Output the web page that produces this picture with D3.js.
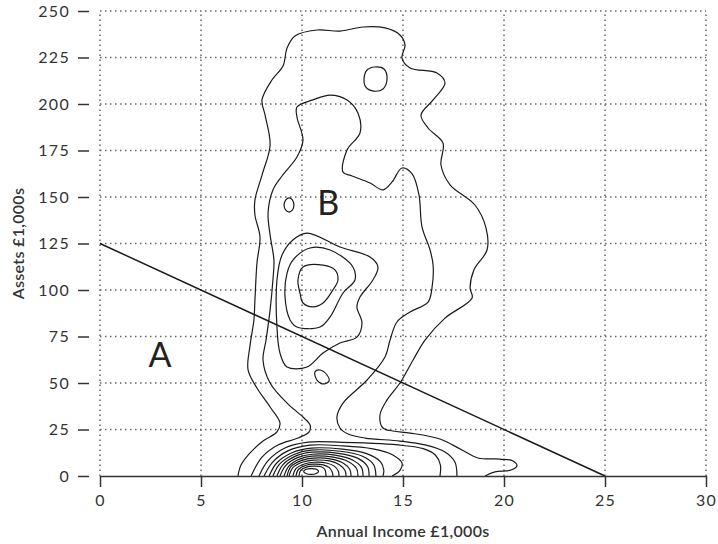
<!DOCTYPE html>
<html>
<head>
<meta charset="utf-8">
<script src="https://cdn.jsdelivr.net/npm/d3@7"></script>
<style>
  body { margin: 0; background: #fff; }
  svg { display: block; }
  text { font-family: Lato, "Open Sans", sans-serif; fill: #333; }
</style>
</head>
<body>
<div class="chart"></div>
<script>
// axes
const xTicks = [0, 5, 10, 15, 20, 25, 30];
const yTicks = [0, 25, 50, 75, 100, 125, 150, 175, 200, 225, 250];

// contour lines, [income, assets] in £1,000s
const outerContour = [[6.83,0],[6.98,5.9],[7.43,12.4],[8.07,18.8],[8.76,23.7],[8.91,28.5],[8.42,37.1],[7.77,47.3],[7.33,57.0],[7.43,70.4],[7.62,83.9],[7.67,94.6],[7.77,114.5],[7.92,128.5],[7.67,140.3],[7.67,148.4],[8.02,161.8],[8.42,178.0],[8.17,194.1],[8.02,202.2],[8.51,212.9],[9.06,220.4],[9.26,230.1],[9.65,236.6],[10.74,239.8],[11.88,239.2],[13.02,241.4],[14.11,240.9],[14.85,237.1],[15.10,231.7],[14.95,224.7],[15.35,219.4],[16.68,216.7],[17.08,211.3],[16.49,202.2],[15.89,194.1],[16.24,187.1],[16.98,179.0],[16.88,167.2],[17.33,156.5],[18.56,145.7],[19.11,133.3],[19.16,121.5],[18.51,110.8],[18.32,101.1],[18.42,95.7],[17.08,84.9],[16.09,73.1],[15.50,62.4],[14.85,50.0],[14.21,40.9],[13.86,32.8],[14.01,25.8],[14.50,24.2],[15.35,23.1],[16.83,19.9],[17.92,14.0],[18.71,9.7],[19.80,9.1],[20.45,8.1],[20.64,5.4],[20.35,3.2],[19.55,2.2],[19.06,0]];

const secondContour = [[7.48,0],[8.02,10.2],[8.81,16.7],[9.80,20.4],[10.35,23.7],[10.40,27.4],[10.05,31.7],[9.26,39.2],[8.42,50.0],[8.07,62.4],[8.22,73.1],[8.42,89.2],[8.56,105.4],[8.61,116.1],[8.42,129.6],[8.32,141.4],[8.56,153.8],[9.01,161.3],[9.75,171.5],[10.05,180.6],[9.75,193.0],[9.75,198.4],[10.54,202.2],[11.39,204.8],[12.23,202.2],[12.77,195.2],[12.87,184.4],[12.23,175.3],[12.03,163.4],[12.48,161.3],[13.37,157.5],[14.01,153.8],[14.46,158.1],[14.95,165.6],[15.45,162.4],[15.79,151.1],[15.94,133.9],[16.34,121.5],[16.49,113.4],[16.44,101.6],[16.24,93.5],[15.35,88.2],[14.70,82.8],[14.36,73.1],[14.11,64.0],[13.22,51.6],[12.03,39.2],[11.73,31.7],[11.88,25.8],[12.28,22.6],[13.12,20.4],[14.85,18.8],[16.09,16.7],[17.08,12.9],[17.57,7.5],[17.67,0]];

// closed rings round the upper peak
const upperRings = [
  [[10.25,130.6],[9.55,126.9],[9.01,118.8],[8.76,105.4],[8.76,80.1],[8.91,66.1],[9.26,58.6],[10.25,58.6],[11.04,66.1],[11.88,71.5],[12.72,74.7],[12.97,82.3],[12.72,90.9],[12.87,96.2],[13.51,105.4],[13.76,112.4],[13.37,117.7],[11.88,123.1]],
  [[10.40,122.6],[9.55,116.1],[9.26,109.1],[9.16,96.2],[9.41,83.9],[9.75,80.1],[10.89,80.1],[11.39,85.5],[12.03,98.4],[12.62,105.4],[12.52,112.4],[11.39,121.5]],
  [[10.05,112.4],[9.80,105.4],[9.90,98.4],[10.05,93.0],[10.54,90.9],[11.04,93.0],[11.53,100.0],[11.78,105.4],[11.63,110.8],[11.04,113.4]]
];

// small islands
const islands = [
  [[13.07,213.4],[13.22,218.3],[13.61,219.9],[14.06,218.8],[14.21,213.4],[14.01,208.1],[13.56,206.9],[13.17,208.9]],
  [[9.11,145.7],[9.2,148.5],[9.36,149.5],[9.52,148.5],[9.6,145.7],[9.52,142.9],[9.36,141.9],[9.2,142.9]],
  [[10.64,55.9],[10.89,57.0],[11.24,54.3],[11.34,51.1],[11.09,49.5],[10.74,51.6]],
  [[10.08,2.4],[10.2,3.6],[10.45,4.0],[10.72,3.6],[10.82,2.4],[10.68,1.2],[10.45,0.9],[10.22,1.2]]
];

// rings of the low-asset peak, cut by the axis
const baseRings = [
  [[7.87,0],[8.3,8],[9.1,14.8],[10.3,18.2],[12,18.1],[13.9,17.4],[15,16.4],[16,14.7],[16.6,11.3],[16.85,6],[16.83,0]],
  [[8.12,0],[8.55,7.5],[9.3,13.5],[10.4,16.6],[12,16.2],[13.5,14.6],[14.45,11.6],[14.95,7],[14.85,3],[14.46,0]],
  [[8.37,0],[8.75,7],[9.5,12.5],[10.45,15.0],[12,14.4],[13.2,12],[13.9,7.5],[14.05,3],[14.01,0]],
  [[8.56,0],[8.9,6.5],[9.6,11.6],[10.45,13.9],[11.9,13.3],[13,10.6],[13.55,6],[13.66,0]],
  [[8.76,0],[9.05,6],[9.7,10.8],[10.5,12.8],[11.8,12.2],[12.75,9.6],[13.25,5],[13.32,0]],
  [[8.91,0],[9.2,5.7],[9.8,10],[10.5,11.7],[11.7,11.1],[12.5,8.6],[12.95,4.5],[13.02,0]],
  [[9.11,0],[9.35,5.3],[9.9,9.2],[10.5,10.7],[11.55,10.1],[12.3,7.7],[12.7,4],[12.77,0]],
  [[9.26,0],[9.45,5],[10,8.4],[10.55,9.6],[11.45,9.1],[12.05,6.9],[12.37,3.5],[12.43,0]],
  [[9.36,0],[9.55,4.5],[10.05,7.5],[10.55,8.5],[11.35,8.1],[11.85,6.1],[12.13,3],[12.18,0]],
  [[9.55,0],[9.7,4],[10.15,6.6],[10.6,7.4],[11.2,7.0],[11.6,5.3],[11.8,2.5],[11.83,0]],
  [[9.70,0],[9.82,3.5],[10.2,5.8],[10.6,6.4],[11.05,6.0],[11.35,4.5],[11.5,2],[11.53,0]],
  [[9.85,0],[9.93,3],[10.25,4.9],[10.6,5.3],[10.95,5.0],[11.13,3.5],[11.19,0]]
];

const divider = [[0, 125], [25, 0]];
const regionNames = ["A", "B"];
const regionSpots = [[2.97, 65], [11.3, 147]];

const width = 718;
const height = 544;

const x = d3.scaleLinear().domain([0, 30]).range([100, 706]);
const y = d3.scaleLinear().domain([0, 250]).range([476, 11]);

const svg = d3.select(".chart")
  .append("svg")
  .attr("width", width)
  .attr("height", height);

svg.append("clipPath").attr("id", "plot")
  .append("rect")
  .attr("x", x(0)).attr("y", y(250))
  .attr("width", x(30) - x(0)).attr("height", y(0) - y(250));

// dotted grid
const grid = svg.append("g")
  .attr("stroke", "#666")
  .attr("stroke-width", 1.5)
  .attr("stroke-dasharray", "1.5,3.5");

grid.selectAll(".vgrid")
  .data(xTicks)
  .enter()
  .append("line")
  .attr("x1", d => x(d)).attr("x2", d => x(d))
  .attr("y1", y(0)).attr("y2", y(250));

grid.selectAll(".hgrid")
  .data(yTicks.filter(d => d > 0))
  .enter()
  .append("line")
  .attr("x1", x(0)).attr("x2", x(30))
  .attr("y1", d => y(d)).attr("y2", d => y(d));

// contours
const openLine = d3.line()
  .x(d => x(d[0]))
  .y(d => y(d[1]))
  .curve(d3.curveCatmullRom.alpha(0.5));

const closedLine = d3.line()
  .x(d => x(d[0]))
  .y(d => y(d[1]))
  .curve(d3.curveCatmullRomClosed.alpha(0.5));

const contours = svg.append("g")
  .attr("clip-path", "url(#plot)")
  .attr("fill", "none")
  .attr("stroke", "#1a1a1a")
  .attr("stroke-width", 1.2);

contours.selectAll(".open")
  .data([outerContour, secondContour].concat(baseRings))
  .enter()
  .append("path")
  .attr("d", openLine);

contours.selectAll(".closed")
  .data(upperRings.concat(islands))
  .enter()
  .append("path")
  .attr("d", closedLine);

// A / B boundary
svg.append("path")
  .datum(divider)
  .attr("fill", "none")
  .attr("stroke", "#1a1a1a")
  .attr("stroke-width", 1.5)
  .attr("d", d3.line().x(d => x(d[0])).y(d => y(d[1])));

svg.selectAll(".region")
  .data(regionNames)
  .enter()
  .append("text")
  .attr("x", (d, i) => x(regionSpots[i][0]))
  .attr("y", (d, i) => y(regionSpots[i][1]))
  .attr("dy", "0.36em")
  .attr("text-anchor", "middle")
  .style("font-size", "34px")
  .style("font-weight", 400)
  .style("fill", "#222")
  .text(d => d);

// axes
const xAxis = svg.append("g")
  .attr("transform", `translate(0,${y(0)})`)
  .call(d3.axisBottom(x).tickValues(xTicks).tickSize(11).tickSizeOuter(0).tickPadding(8));

const yAxis = svg.append("g")
  .attr("transform", `translate(${x(0) - 11},0)`)
  .call(d3.axisLeft(y).tickValues(yTicks).tickSize(11).tickSizeOuter(0).tickPadding(8));
yAxis.select(".domain").remove();

svg.selectAll(".tick line, .domain")
  .attr("stroke", "#333")
  .attr("stroke-width", 1.5);

svg.selectAll(".tick text")
  .attr("fill", "#333")
  .style("font-family", "Lato, sans-serif")
  .style("font-size", "16px")
  .style("letter-spacing", "1.3px");

svg.append("text")
  .attr("x", (x(0) + x(30)) / 2)
  .attr("y", 531)
  .attr("dy", "0.35em")
  .attr("text-anchor", "middle")
  .style("font-size", "16px")
  .style("font-weight", 600)
  .style("letter-spacing", "0.3px")
  .text("Annual Income £1,000s");

svg.append("text")
  .attr("transform", `translate(18,${y(125)}) rotate(-90)`)
  .attr("dy", "0.35em")
  .attr("text-anchor", "middle")
  .style("font-size", "16px")
  .style("font-weight", 600)
  .style("letter-spacing", "0.3px")
  .text("Assets £1,000s");
</script>
</body>
</html>
